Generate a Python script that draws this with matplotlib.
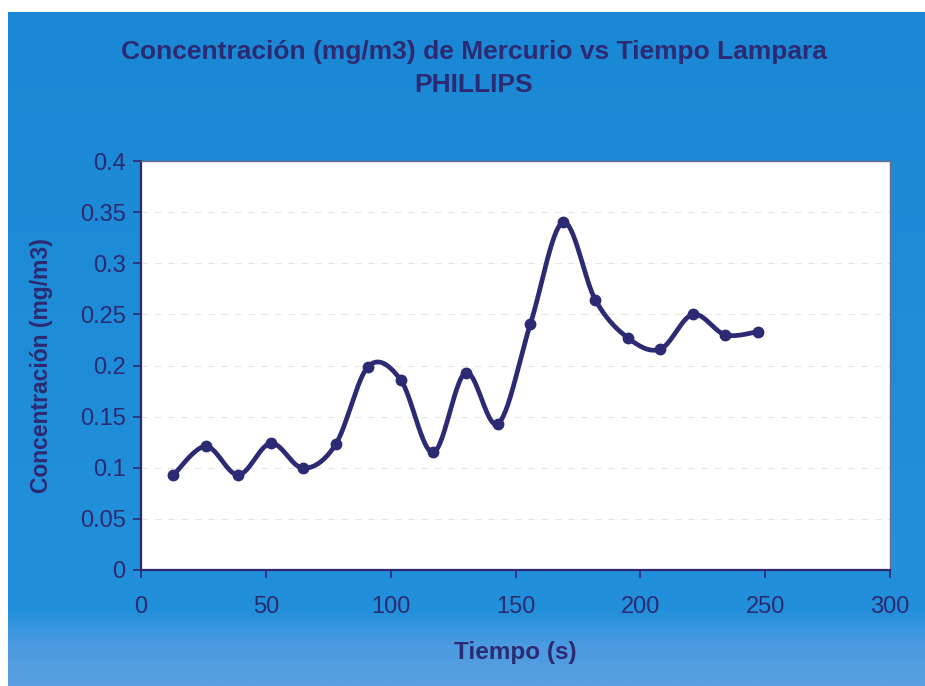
import numpy as np
import matplotlib.pyplot as plt
from matplotlib.colors import LinearSegmentedColormap

# Datos (tiempo en s, concentracion en mg/m3)
tiempo = [13, 26, 39, 52, 65, 78, 91, 104, 117, 130, 143, 156, 169, 182, 195, 208, 221, 234, 247]
concentracion = [0.093, 0.121, 0.093, 0.124, 0.0995, 0.123, 0.199, 0.186, 0.115, 0.193,
                 0.143, 0.241, 0.340, 0.264, 0.227, 0.216, 0.250, 0.230, 0.233]

x_ticks = [0, 50, 100, 150, 200, 250, 300]
y_ticks = [0, 0.05, 0.1, 0.15, 0.2, 0.25, 0.3, 0.35, 0.4]
y_tick_labels = ["0", "0.05", "0.1", "0.15", "0.2", "0.25", "0.3", "0.35", "0.4"]

navy = "#2c2a72"


def smooth_line(xs, ys, n=30):
    # curva suavizada tipo Excel (Bezier con tangentes Catmull-Rom)
    pts = np.column_stack([xs, ys]).astype(float)
    pad = np.vstack([pts[0], pts, pts[-1]])
    out = []
    for i in range(len(pts) - 1):
        p0, p1, p2, p3 = pad[i], pad[i + 1], pad[i + 2], pad[i + 3]
        b1 = p1 + (p2 - p0) / 6
        b2 = p2 - (p3 - p1) / 6
        t = np.linspace(0, 1, n)[:, None]
        seg = ((1 - t) ** 3) * p1 + 3 * ((1 - t) ** 2) * t * b1 + 3 * (1 - t) * t ** 2 * b2 + t ** 3 * p2
        out.append(seg)
    c = np.vstack(out)
    return c[:, 0], c[:, 1]


plt.rcParams['font.family'] = ['Liberation Sans', 'DejaVu Sans']

fig = plt.figure(figsize=(9.25, 6.86), dpi=100)
fig.patch.set_facecolor("white")

# fondo azul con degradado
bg = fig.add_axes([8 / 925, 0, 1 - 8 / 925, 1 - 12 / 686])
bg.set_axis_off()
grad = np.linspace(0, 1, 256)[:, None]
cmap = LinearSegmentedColormap.from_list(
    "fondo", [(0.0, "#1a88d4"), (0.89, "#2290da"), (0.94, "#4c9ae0"), (1.0, "#5aa0e2")])
bg.imshow(grad, aspect="auto", cmap=cmap, extent=[0, 1, 0, 1], origin="upper")

ax = fig.add_axes([141 / 925, 1 - 570 / 686, 749 / 925, 409 / 686])
ax.set_facecolor("white")

sx, sy = smooth_line(tiempo, concentracion)
ax.plot(sx, sy, color=navy, lw=3.4, solid_capstyle="round", zorder=3)
ax.plot(tiempo, concentracion, "o", color=navy, markersize=7.5, zorder=4)

ax.set_xlim(0, 300)
ax.set_ylim(0, 0.4)
ax.set_xticks(x_ticks)
ax.set_yticks(y_ticks)
ax.set_yticklabels(y_tick_labels)
ax.tick_params(axis="both", colors=navy, labelsize=17, length=6, width=1.2, direction="out")
ax.tick_params(axis="x", pad=13)
ax.tick_params(axis="y", pad=5)

ax.grid(axis="y", color="#e6e6e6", linestyle=(0, (6, 6)), lw=0.8)
ax.set_axisbelow(True)

for side in ["left", "bottom"]:
    ax.spines[side].set_color(navy)
    ax.spines[side].set_linewidth(1.6)
for side in ["top", "right"]:
    ax.spines[side].set_color("#6d6d8a")
    ax.spines[side].set_linewidth(1.0)

ax.set_xlabel("Tiempo (s)", fontsize=17.5, fontweight="bold", color=navy, labelpad=16)
ax.set_ylabel("Concentración (mg/m3)", fontsize=16.5, fontweight="bold", color=navy, labelpad=19)

fig.text(0.512, 1 - 52 / 686, "Concentración (mg/m3) de Mercurio vs Tiempo Lampara",
         ha="center", va="center", fontsize=19, fontweight="bold", color=navy)
fig.text(0.512, 1 - 85 / 686, "PHILLIPS",
         ha="center", va="center", fontsize=19, fontweight="bold", color=navy)

fig.savefig("out.png", dpi=100)
